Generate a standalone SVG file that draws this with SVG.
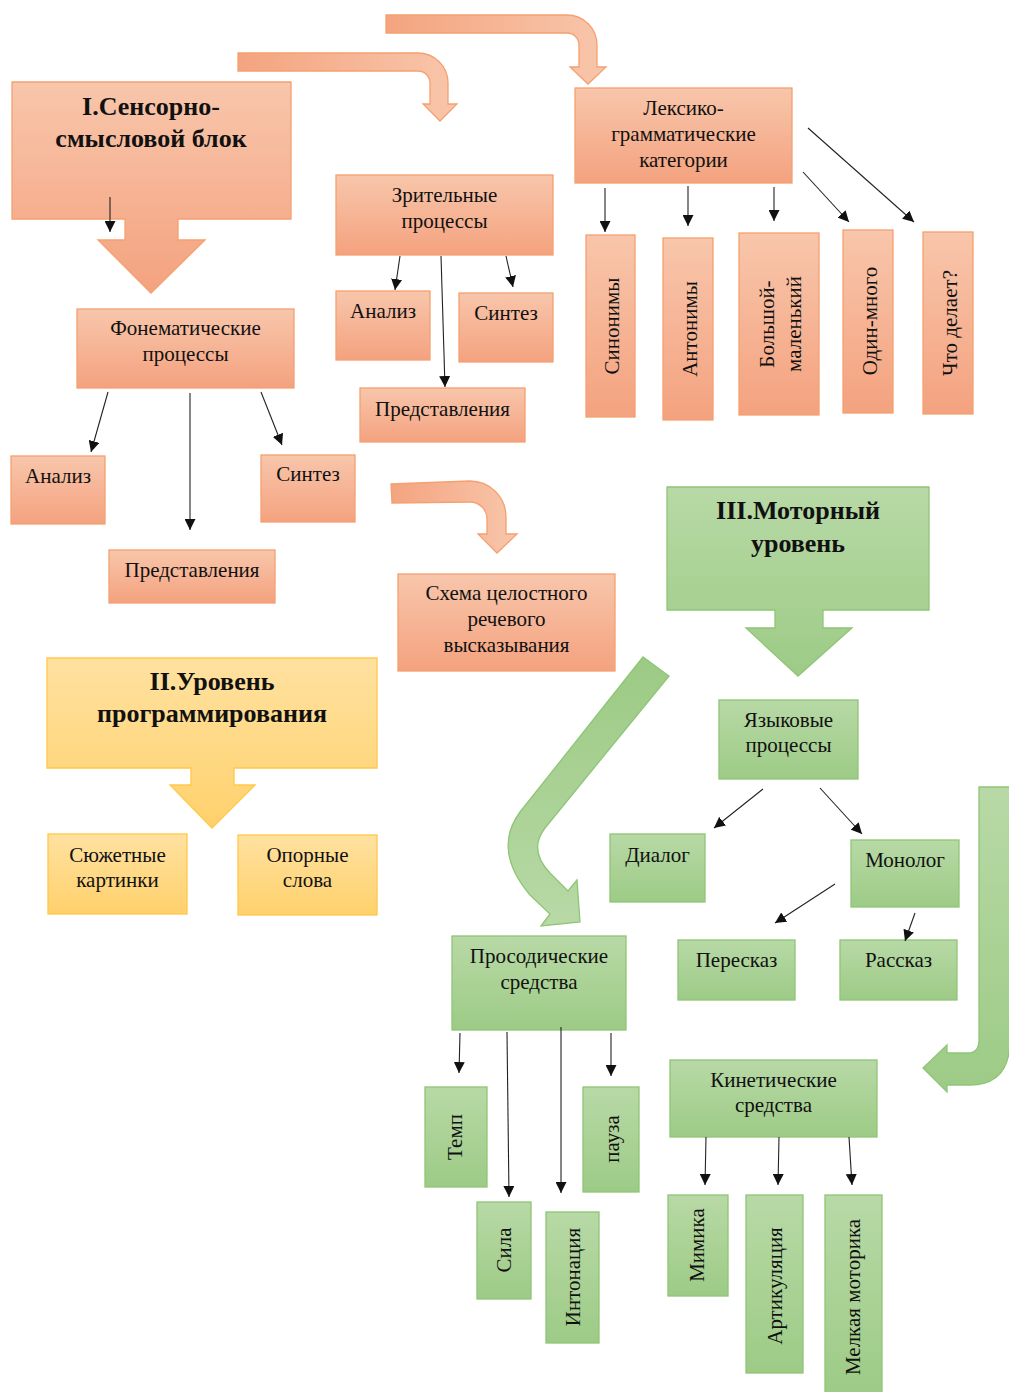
<svg xmlns="http://www.w3.org/2000/svg" width="1009" height="1392" viewBox="0 0 1009 1392">
<defs>
<linearGradient id="og" x1="0" y1="0" x2="0" y2="1"><stop offset="0" stop-color="#f8c6ab"/><stop offset="1" stop-color="#f4a27f"/></linearGradient>
<linearGradient id="ogh" x1="0" y1="0" x2="1" y2="0"><stop offset="0" stop-color="#f4a47f"/><stop offset="1" stop-color="#f8c6ab"/></linearGradient>
<linearGradient id="gg" x1="0" y1="0" x2="0" y2="1"><stop offset="0" stop-color="#b8d9a6"/><stop offset="1" stop-color="#9dcb86"/></linearGradient>
<linearGradient id="ggr" x1="0" y1="0" x2="0" y2="1"><stop offset="0" stop-color="#9cca84"/><stop offset="1" stop-color="#b8d9a6"/></linearGradient>
<linearGradient id="yg" x1="0" y1="0" x2="0" y2="1"><stop offset="0" stop-color="#ffe1a0"/><stop offset="1" stop-color="#ffd16c"/></linearGradient>
<marker id="ah" viewBox="0 0 10 10" refX="10" refY="5" markerWidth="11" markerHeight="11" markerUnits="userSpaceOnUse" orient="auto"><path d="M0,0 L10,5 L0,10 z" fill="#111"/></marker>
<style>
.o{fill:url(#og);stroke:#f5a070;stroke-width:1.3}
.oh{fill:url(#ogh);stroke:#f5a070;stroke-width:1.3}
.g{fill:url(#gg);stroke:#8fc576;stroke-width:1.3}
.gr{fill:url(#ggr);stroke:#8fc576;stroke-width:1.3}
.y{fill:url(#yg);stroke:#ffc84a;stroke-width:1.3}
.t{font-family:"Liberation Serif","Times New Roman",serif;font-size:21px;fill:#111;text-anchor:middle}
.tb{font-weight:bold;font-size:26px}
.c{stroke:#222;stroke-width:1.1;fill:none;marker-end:url(#ah)}
</style>
</defs>
<rect width="1009" height="1392" fill="#fff"/>

<!-- big block arrows -->
<g id="bent1"><path class="oh" d="M238,53 L418,53 A30,30 0 0 1 448,83 L448,104 L457,104 L440,121 L423,104 L430,104 L430,83 A12,12 0 0 0 418,71 L238,71 Z"/></g>
<g id="bent2"><path class="oh" d="M386,15 L567,15 A30,30 0 0 1 597,45 L597,67 L606,67 L588,84 L570,67 L579,67 L579,45 A12,12 0 0 0 567,33 L386,33 Z"/></g>
<g id="bent3"><path class="oh" d="M391,484 L470,481 A36,36 0 0 1 506,517 L506,534 L517,534 L497,553 L478,534 L487,534 L487,520 A17,17 0 0 0 470,502 L392,503 Z"/></g>
<g id="greenCurve"><path class="gr" d="M643,657 L520,812 Q492,850 530,895 L550,914 L541,926 L580,922 L577,880 L568,891 L550,873 Q528,850 545,828 L669,676 Z"/></g>
<g id="greenBent"><path class="g" d="M979,787 L1010,787 L1010,1040 Q1010,1085 970,1085 L947,1085 L947,1092 L923,1068 L947,1045 L947,1053 L968,1053 Q979,1053 979,1040 Z"/></g>

<!-- Block I -->
<g id="blockI">
<path class="o" d="M12,82 H291 V219 H178 V240 H205 L151,293 L98,240 H125 V219 H12 Z"/>
<text class="t tb" x="151" y="115">I.Сенсорно-</text>
<text class="t tb" x="151" y="147">смысловой блок</text>
</g>

<g id="zrit"><rect class="o" x="336" y="175" width="217" height="80"/><text class="t" x="444.5" y="202">Зрительные</text><text class="t" x="444.5" y="228">процессы</text></g>
<g id="analiz2"><rect class="o" x="336" y="291" width="94" height="69"/><text class="t" x="383" y="318">Анализ</text></g>
<g id="sintez2"><rect class="o" x="459" y="293" width="94" height="69"/><text class="t" x="506" y="320">Синтез</text></g>
<g id="pred2"><rect class="o" x="360" y="388" width="165" height="54"/><text class="t" x="442.5" y="416">Представления</text></g>

<g id="lex"><rect class="o" x="575" y="88" width="217" height="95"/><text class="t" x="683.5" y="115">Лексико-</text><text class="t" x="683.5" y="141">грамматические</text><text class="t" x="683.5" y="167">категории</text></g>
<g id="syn"><rect class="o" x="586" y="235" width="49" height="182"/><text class="t" transform="translate(612,326) rotate(-90)" dy="0.35em">Синонимы</text></g>
<g id="ant"><rect class="o" x="663" y="238" width="50" height="182"/><text class="t" transform="translate(690,329) rotate(-90)" dy="0.35em">Антонимы</text></g>
<g id="bol"><rect class="o" x="739" y="233" width="80" height="182"/><text class="t" transform="translate(781,324) rotate(-90)"><tspan x="0" y="-7">Большой-</tspan><tspan x="0" y="20">маленький</tspan></text></g>
<g id="odin"><rect class="o" x="843" y="230" width="50" height="183"/><text class="t" transform="translate(870,321) rotate(-90)" dy="0.35em">Один-много</text></g>
<g id="chto"><rect class="o" x="923" y="232" width="50" height="182"/><text class="t" transform="translate(950,323) rotate(-90)" dy="0.35em">Что делает?</text></g>

<g id="fon"><rect class="o" x="77" y="309" width="217" height="79"/><text class="t" x="185.5" y="335">Фонематические</text><text class="t" x="185.5" y="361">процессы</text></g>
<g id="analiz1"><rect class="o" x="11" y="456" width="94" height="68"/><text class="t" x="58" y="483">Анализ</text></g>
<g id="sintez1"><rect class="o" x="261" y="455" width="94" height="67"/><text class="t" x="308" y="481">Синтез</text></g>
<g id="pred1"><rect class="o" x="109" y="550" width="166" height="53"/><text class="t" x="192" y="577">Представления</text></g>

<g id="schema"><rect class="o" x="398" y="574" width="217" height="97"/><text class="t" x="506.5" y="600">Схема целостного</text><text class="t" x="506.5" y="626">речевого</text><text class="t" x="506.5" y="652">высказывания</text></g>

<!-- Block II -->
<g id="blockII">
<path class="y" d="M47,658 H377 V768 H234 V785 H255 L212,828 L170,785 H191 V768 H47 Z"/>
<text class="t tb" x="212" y="690">II.Уровень</text>
<text class="t tb" x="212" y="722">программирования</text>
</g>
<g id="sjuzh"><rect class="y" x="48" y="834" width="139" height="80"/><text class="t" x="117.5" y="862">Сюжетные</text><text class="t" x="117.5" y="887">картинки</text></g>
<g id="opor"><rect class="y" x="238" y="835" width="139" height="80"/><text class="t" x="307.5" y="862">Опорные</text><text class="t" x="307.5" y="887">слова</text></g>

<!-- Block III -->
<g id="blockIII">
<path class="g" d="M667,487 H929 V610 H823 V628 H852 L798,676 L746,628 H775 V610 H667 Z"/>
<text class="t tb" x="798" y="519">III.Моторный</text>
<text class="t tb" x="798" y="552">уровень</text>
</g>
<g id="jaz"><rect class="g" x="719" y="700" width="139" height="79"/><text class="t" x="788.5" y="727">Языковые</text><text class="t" x="788.5" y="752">процессы</text></g>
<g id="dial"><rect class="g" x="610" y="834" width="95" height="68"/><text class="t" x="657.5" y="862">Диалог</text></g>
<g id="mono"><rect class="g" x="851" y="840" width="108" height="67"/><text class="t" x="905" y="867">Монолог</text></g>
<g id="peres"><rect class="g" x="678" y="940" width="117" height="60"/><text class="t" x="736.5" y="967">Пересказ</text></g>
<g id="rass"><rect class="g" x="840" y="940" width="117" height="60"/><text class="t" x="898.5" y="967">Рассказ</text></g>

<g id="pros"><rect class="g" x="452" y="936" width="174" height="94"/><text class="t" x="539" y="963">Просодические</text><text class="t" x="539" y="989">средства</text></g>
<g id="temp"><rect class="g" x="425" y="1087" width="62" height="100"/><text class="t" transform="translate(455,1137) rotate(-90)" dy="0.35em">Темп</text></g>
<g id="pauza"><rect class="g" x="583" y="1087" width="56" height="105"/><text class="t" transform="translate(612,1139) rotate(-90)" dy="0.35em">пауза</text></g>
<g id="sila"><rect class="g" x="477" y="1202" width="54" height="97"/><text class="t" transform="translate(504,1250) rotate(-90)" dy="0.35em">Сила</text></g>
<g id="inton"><rect class="g" x="546" y="1212" width="53" height="131"/><text class="t" transform="translate(573,1277) rotate(-90)" dy="0.35em">Интонация</text></g>

<g id="kin"><rect class="g" x="670" y="1060" width="207" height="77"/><text class="t" x="773.5" y="1087">Кинетические</text><text class="t" x="773.5" y="1112">средства</text></g>
<g id="mim"><rect class="g" x="668" y="1195" width="60" height="101"/><text class="t" transform="translate(697,1245) rotate(-90)" dy="0.35em">Мимика</text></g>
<g id="art"><rect class="g" x="746" y="1195" width="57" height="178"/><text class="t" transform="translate(775,1286) rotate(-90)" dy="0.35em">Артикуляция</text></g>
<g id="melk"><rect class="g" x="825" y="1195" width="57" height="200"/><text class="t" transform="translate(853,1297) rotate(-90)" dy="0.35em">Мелкая моторика</text></g>

<!-- connectors -->
<g id="connectors">
<line class="c" x1="110" y1="197" x2="110" y2="232"/>
<line class="c" x1="400" y1="256" x2="395" y2="290"/>
<line class="c" x1="506" y1="256" x2="513" y2="287"/>
<line class="c" x1="441" y1="256" x2="445" y2="387"/>
<line class="c" x1="605" y1="188" x2="605" y2="232"/>
<line class="c" x1="688" y1="186" x2="688" y2="226"/>
<line class="c" x1="774" y1="187" x2="774" y2="221"/>
<line class="c" x1="803" y1="172" x2="849" y2="222"/>
<line class="c" x1="808" y1="128" x2="914" y2="222"/>
<line class="c" x1="108" y1="392" x2="91" y2="452"/>
<line class="c" x1="190" y1="393" x2="190" y2="530"/>
<line class="c" x1="261" y1="392" x2="282" y2="445"/>
<line class="c" x1="763" y1="789" x2="714" y2="828"/>
<line class="c" x1="820" y1="788" x2="862" y2="834"/>
<line class="c" x1="835" y1="884" x2="775" y2="923"/>
<line class="c" x1="915" y1="913" x2="905" y2="941"/>
<line class="c" x1="460" y1="1033" x2="459" y2="1073"/>
<line class="c" x1="507" y1="1032" x2="509" y2="1197"/>
<line class="c" x1="561" y1="1027" x2="561" y2="1193"/>
<line class="c" x1="611" y1="1033" x2="611" y2="1076"/>
<line class="c" x1="706" y1="1137" x2="705" y2="1185"/>
<line class="c" x1="779" y1="1137" x2="778" y2="1185"/>
<line class="c" x1="849" y1="1137" x2="852" y2="1185"/>
</g>
</svg>
